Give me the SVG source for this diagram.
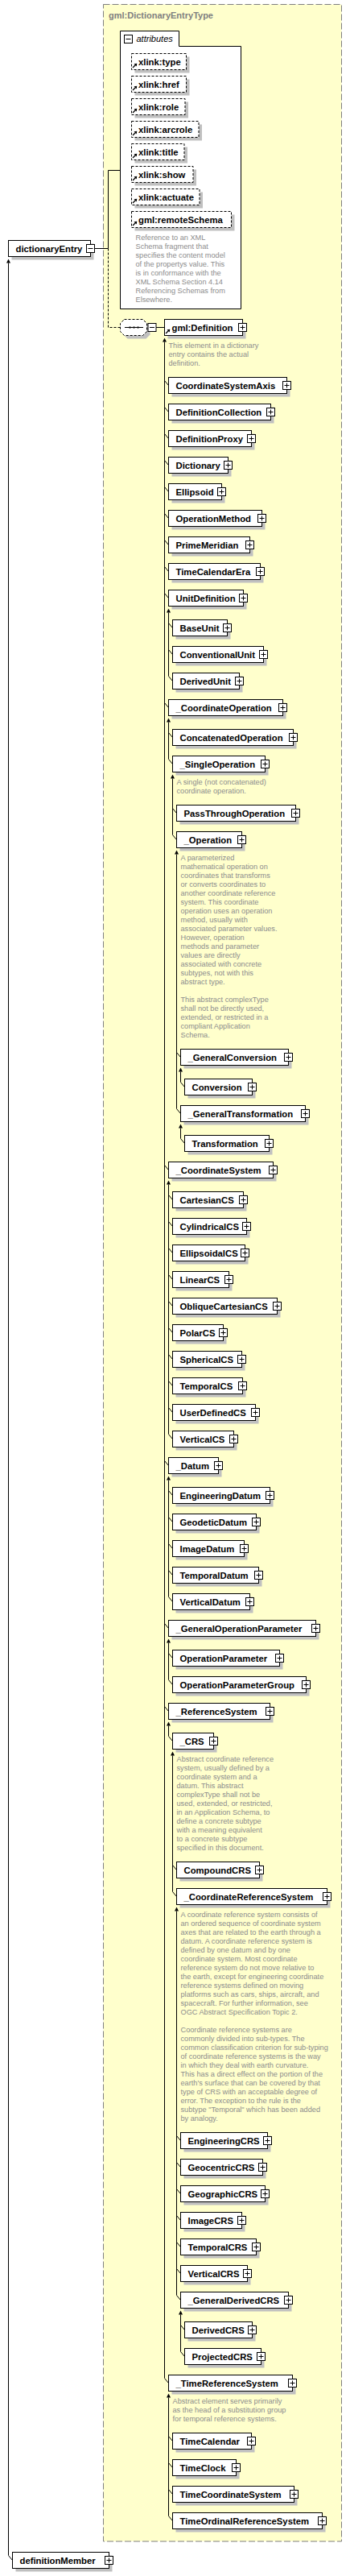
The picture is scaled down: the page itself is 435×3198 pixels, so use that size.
<svg xmlns="http://www.w3.org/2000/svg" xmlns:xlink="http://www.w3.org/1999/xlink" width="435" height="3198" viewBox="0 0 435 3198">
<style>
.bx{fill:#fff;stroke:#000;stroke-width:1}
.sh{fill:#c0c0c0}
.ab{fill:#fff;stroke:#000;stroke-width:1;stroke-dasharray:3,2}
.lb{font-family:"Liberation Sans",Arial,sans-serif;font-size:11.3px;font-weight:bold;fill:#000}
.ds{font-family:"Liberation Sans",Arial,sans-serif;font-size:9.2px;fill:#8c8c8c}
.cn{fill:none;stroke:#000;stroke-width:1}
.dcn{fill:none;stroke:#000;stroke-width:1;stroke-dasharray:3,2}
.ah{fill:#000}
</style>
<defs>
<g id="pb"><rect x="-5" y="-5" width="10" height="10" fill="#fff" stroke="#000"/><path d="M-3 0H3M0 -3V3" stroke="#000"/></g>
<g id="mb"><rect x="-5" y="-5" width="10" height="10" fill="#fff" stroke="#000"/><path d="M-3 0H3" stroke="#000"/></g>
<g id="ri"><path d="M1.5 -2.5L5 -6" stroke="#000" stroke-width="1.3"/><polygon points="6.8,-7.8 3,-7.2 6.2,-4" fill="#000"/></g>
</defs>

<rect x="128.5" y="5.5" width="296" height="3149.5" fill="#ffffcc" stroke="#808080" stroke-dasharray="8,3"/>
<text x="135" y="23" style="font-family:'Liberation Sans',Arial,sans-serif;font-size:11px;font-weight:bold;fill:#808080">gml:DictionaryEntryType</text>

<g id="attributes">
<path d="M149.5 383.5V38.5H222.5V57.5H299.5V383.5Z" class="bx"/>
<use xlink:href="#mb" x="159.5" y="48.5"/>
<text x="169.5" y="52" style="font-family:'Liberation Sans',Arial,sans-serif;font-size:11px;font-style:italic;fill:#000">attributes</text>
</g>
<g id="a-type"><rect class="sh" x="167.5" y="70.5" width="68" height="20"/><rect class="ab" x="163.5" y="66.5" width="68" height="20"/><use xlink:href="#ri" x="163.5" y="86.5"/><text class="lb" x="172" y="80.5">xlink:type</text></g>
<g id="a-href"><rect class="sh" x="167.5" y="98.5" width="68" height="20"/><rect class="ab" x="163.5" y="94.5" width="68" height="20"/><use xlink:href="#ri" x="163.5" y="114.5"/><text class="lb" x="172" y="108.5">xlink:href</text></g>
<g id="a-role"><rect class="sh" x="167.5" y="126.5" width="66.5" height="20"/><rect class="ab" x="163.5" y="122.5" width="66.5" height="20"/><use xlink:href="#ri" x="163.5" y="142.5"/><text class="lb" x="172" y="136.5">xlink:role</text></g>
<g id="a-arcrole"><rect class="sh" x="167.5" y="154.5" width="83.5" height="20"/><rect class="ab" x="163.5" y="150.5" width="83.5" height="20"/><use xlink:href="#ri" x="163.5" y="170.5"/><text class="lb" x="172" y="164.5">xlink:arcrole</text></g>
<g id="a-title"><rect class="sh" x="167.5" y="182.5" width="65.5" height="20"/><rect class="ab" x="163.5" y="178.5" width="65.5" height="20"/><use xlink:href="#ri" x="163.5" y="198.5"/><text class="lb" x="172" y="192.5">xlink:title</text></g>
<g id="a-show"><rect class="sh" x="167.5" y="210.5" width="76.5" height="20"/><rect class="ab" x="163.5" y="206.5" width="76.5" height="20"/><use xlink:href="#ri" x="163.5" y="226.5"/><text class="lb" x="172" y="220.5">xlink:show</text></g>
<g id="a-actuate"><rect class="sh" x="167.5" y="238.5" width="84.5" height="20"/><rect class="ab" x="163.5" y="234.5" width="84.5" height="20"/><use xlink:href="#ri" x="163.5" y="254.5"/><text class="lb" x="172" y="248.5">xlink:actuate</text></g>
<g id="a-remoteSchema"><rect class="sh" x="167.5" y="266.5" width="124" height="20"/><rect class="ab" x="163.5" y="262.5" width="124" height="20"/><use xlink:href="#ri" x="163.5" y="282.5"/><text class="lb" x="172" y="276.5">gml:remoteSchema</text>
<text class="ds" x="168.5" y="298"><tspan x="168.5">Reference to an XML</tspan><tspan x="168.5" dy="11">Schema fragment that</tspan><tspan x="168.5" dy="11">specifies the content model</tspan><tspan x="168.5" dy="11">of the propertys value. This</tspan><tspan x="168.5" dy="11">is in conformance with the</tspan><tspan x="168.5" dy="11">XML Schema Section 4.14</tspan><tspan x="168.5" dy="11">Referencing Schemas from</tspan><tspan x="168.5" dy="11">Elsewhere.</tspan></text></g>

<g id="connectors">
<path class="cn" d="M117.5 308.5H134.5V211.5H149.5"/>
<path class="dcn" d="M134.5 308.5V406.5H149.5"/>
<path class="cn" d="M194 406.5H204.5"/>
<polygon class="ah" points="10.5,321.5 8,326.5 13,326.5"/>
<path class="cn" d="M10.5 326.5V3172.5l5 6"/>
<polygon class="ah" points="204.5,419.5 202,424.5 207,424.5"/>
<path class="cn" d="M204.5 424.5V2952.5"/>
<path class="cn" d="M204.5 472.5l5 6M204.5 505.5l5 6M204.5 538.5l5 6M204.5 571.5l5 6M204.5 604.5l5 6M204.5 637.5l5 6M204.5 670.5l5 6M204.5 703.5l5 6M204.5 736.5l5 6M204.5 872.5l5 6M204.5 1446.5l5 6M204.5 1813.5l5 6M204.5 2015.5l5 6M204.5 2118.5l5 6M204.5 2952.5l5 6"/>
<polygon class="ah" points="209.5,755.5 207,760.5 212,760.5"/>
<path class="cn" d="M209.5 760.5V839.5M209.5 773.5l5 6M209.5 806.5l5 6M209.5 839.5l5 6"/>
<polygon class="ah" points="209.5,891.5 207,896.5 212,896.5"/>
<path class="cn" d="M209.5 896.5V942.5M209.5 909.5l5 6M209.5 942.5l5 6"/>
<polygon class="ah" points="214.5,961.5 212,966.5 217,966.5"/>
<path class="cn" d="M214.5 966.5V1036.5M214.5 1003.5l5 6M214.5 1036.5l5 6"/>
<polygon class="ah" points="219.5,1055.5 217,1060.5 222,1060.5"/>
<path class="cn" d="M219.5 1060.5V1376.5M219.5 1306.5l5 6M219.5 1376.5l5 6"/>
<polygon class="ah" points="224.5,1325.5 222,1330.5 227,1330.5"/>
<path class="cn" d="M224.5 1330.5V1343.5l5 6"/>
<polygon class="ah" points="224.5,1395.5 222,1400.5 227,1400.5"/>
<path class="cn" d="M224.5 1400.5V1413.5l5 6"/>
<polygon class="ah" points="209.5,1465.5 207,1470.5 212,1470.5"/>
<path class="cn" d="M209.5 1470.5V1780.5M209.5 1483.5l5 6M209.5 1516.5l5 6M209.5 1549.5l5 6M209.5 1582.5l5 6M209.5 1615.5l5 6M209.5 1648.5l5 6M209.5 1681.5l5 6M209.5 1714.5l5 6M209.5 1747.5l5 6M209.5 1780.5l5 6"/>
<polygon class="ah" points="209.5,1832.5 207,1837.5 212,1837.5"/>
<path class="cn" d="M209.5 1837.5V1982.5M209.5 1850.5l5 6M209.5 1883.5l5 6M209.5 1916.5l5 6M209.5 1949.5l5 6M209.5 1982.5l5 6"/>
<polygon class="ah" points="209.5,2034.5 207,2039.5 212,2039.5"/>
<path class="cn" d="M209.5 2039.5V2085.5M209.5 2052.5l5 6M209.5 2085.5l5 6"/>
<polygon class="ah" points="209.5,2137.5 207,2142.5 212,2142.5"/>
<path class="cn" d="M209.5 2142.5V2155.5l5 6"/>
<polygon class="ah" points="214.5,2174.5 212,2179.5 217,2179.5"/>
<path class="cn" d="M214.5 2179.5V2348.5M214.5 2315.5l5 6M214.5 2348.5l5 6"/>
<polygon class="ah" points="219.5,2367.5 217,2372.5 222,2372.5"/>
<path class="cn" d="M219.5 2372.5V2849.5M219.5 2651.5l5 6M219.5 2684.5l5 6M219.5 2717.5l5 6M219.5 2750.5l5 6M219.5 2783.5l5 6M219.5 2816.5l5 6M219.5 2849.5l5 6"/>
<polygon class="ah" points="224.5,2868.5 222,2873.5 227,2873.5"/>
<path class="cn" d="M224.5 2873.5V2919.5M224.5 2886.5l5 6M224.5 2919.5l5 6"/>
<polygon class="ah" points="209.5,2971.5 207,2976.5 212,2976.5"/>
<path class="cn" d="M209.5 2976.5V3123.5M209.5 3024.5l5 6M209.5 3057.5l5 6M209.5 3090.5l5 6M209.5 3123.5l5 6"/>
</g>

<g id="dictionaryEntry"><rect class="sh" x="14.5" y="302.5" width="102" height="20"/><rect class="bx" x="10.5" y="298.5" width="102" height="20"/><text class="lb" x="19.5" y="312.5">dictionaryEntry</text><use xlink:href="#mb" x="112.5" y="308.5"/></g>

<g id="sequence"><path class="sh" d="M158.5 400.5H181.5L186.5 405.5V415.5L181.5 420.5H158.5L153.5 415.5V405.5Z"/><path d="M154.5 396.5H177.5L182.5 401.5V411.5L177.5 416.5H154.5L149.5 411.5V401.5Z" fill="#fff" stroke="#000" stroke-dasharray="3,2"/><path d="M155 406.5H178" stroke="#000"/><rect x="160.5" y="405.5" width="2" height="2"/><rect x="165.5" y="405.5" width="2" height="2"/><rect x="170.5" y="405.5" width="2" height="2"/><use xlink:href="#mb" x="189" y="406.5"/></g>

<g id="gml-Definition"><rect class="sh" x="208.5" y="400.5" width="97" height="20"/><rect class="bx" x="204.5" y="396.5" width="97" height="20"/><use xlink:href="#ri" x="204.5" y="416.5"/><text class="lb" x="213.5" y="410.5">gml:Definition</text><use xlink:href="#pb" x="301.5" y="406.5"/>
<text class="ds" x="209.5" y="432"><tspan x="209.5">This element in a dictionary</tspan><tspan x="209.5" dy="11">entry contains the actual</tspan><tspan x="209.5" dy="11">definition.</tspan></text></g>

<g id="CoordinateSystemAxis"><rect class="sh" x="213.5" y="472.5" width="147" height="20"/><rect class="bx" x="209.5" y="468.5" width="147" height="20"/><text class="lb" x="218.5" y="482.5">CoordinateSystemAxis</text><use xlink:href="#pb" x="356.5" y="478.5"/></g>
<g id="DefinitionCollection"><rect class="sh" x="213.5" y="505.5" width="127" height="20"/><rect class="bx" x="209.5" y="501.5" width="127" height="20"/><text class="lb" x="218.5" y="515.5">DefinitionCollection</text><use xlink:href="#pb" x="336.5" y="511.5"/></g>
<g id="DefinitionProxy"><rect class="sh" x="213.5" y="538.5" width="103" height="20"/><rect class="bx" x="209.5" y="534.5" width="103" height="20"/><text class="lb" x="218.5" y="548.5">DefinitionProxy</text><use xlink:href="#pb" x="312.5" y="544.5"/></g>
<g id="Dictionary"><rect class="sh" x="213.5" y="571.5" width="74" height="20"/><rect class="bx" x="209.5" y="567.5" width="74" height="20"/><text class="lb" x="218.5" y="581.5">Dictionary</text><use xlink:href="#pb" x="283.5" y="577.5"/></g>
<g id="Ellipsoid"><rect class="sh" x="213.5" y="604.5" width="66" height="20"/><rect class="bx" x="209.5" y="600.5" width="66" height="20"/><text class="lb" x="218.5" y="614.5">Ellipsoid</text><use xlink:href="#pb" x="275.5" y="610.5"/></g>
<g id="OperationMethod"><rect class="sh" x="213.5" y="637.5" width="116" height="20"/><rect class="bx" x="209.5" y="633.5" width="116" height="20"/><text class="lb" x="218.5" y="647.5">OperationMethod</text><use xlink:href="#pb" x="325.5" y="643.5"/></g>
<g id="PrimeMeridian"><rect class="sh" x="213.5" y="670.5" width="101" height="20"/><rect class="bx" x="209.5" y="666.5" width="101" height="20"/><text class="lb" x="218.5" y="680.5">PrimeMeridian</text><use xlink:href="#pb" x="310.5" y="676.5"/></g>
<g id="TimeCalendarEra"><rect class="sh" x="213.5" y="703.5" width="114" height="20"/><rect class="bx" x="209.5" y="699.5" width="114" height="20"/><text class="lb" x="218.5" y="713.5">TimeCalendarEra</text><use xlink:href="#pb" x="323.5" y="709.5"/></g>
<g id="UnitDefinition"><rect class="sh" x="213.5" y="736.5" width="93" height="20"/><rect class="bx" x="209.5" y="732.5" width="93" height="20"/><text class="lb" x="218.5" y="746.5">UnitDefinition</text><use xlink:href="#pb" x="302.5" y="742.5"/></g>
<g id="BaseUnit"><rect class="sh" x="218.5" y="773.5" width="68" height="20"/><rect class="bx" x="214.5" y="769.5" width="68" height="20"/><text class="lb" x="223.5" y="783.5">BaseUnit</text><use xlink:href="#pb" x="282.5" y="779.5"/></g>
<g id="ConventionalUnit"><rect class="sh" x="218.5" y="806.5" width="113" height="20"/><rect class="bx" x="214.5" y="802.5" width="113" height="20"/><text class="lb" x="223.5" y="816.5">ConventionalUnit</text><use xlink:href="#pb" x="327.5" y="812.5"/></g>
<g id="DerivedUnit"><rect class="sh" x="218.5" y="839.5" width="83" height="20"/><rect class="bx" x="214.5" y="835.5" width="83" height="20"/><text class="lb" x="223.5" y="849.5">DerivedUnit</text><use xlink:href="#pb" x="297.5" y="845.5"/></g>
<g id="_CoordinateOperation"><rect class="sh" x="213.5" y="872.5" width="142" height="20"/><rect class="bx" x="209.5" y="868.5" width="142" height="20"/><text class="lb" x="218.5" y="882.5">_CoordinateOperation</text><use xlink:href="#pb" x="351.5" y="878.5"/></g>
<g id="ConcatenatedOperation"><rect class="sh" x="218.5" y="909.5" width="150" height="20"/><rect class="bx" x="214.5" y="905.5" width="150" height="20"/><text class="lb" x="223.5" y="919.5">ConcatenatedOperation</text><use xlink:href="#pb" x="364.5" y="915.5"/></g>
<g id="_SingleOperation"><rect class="sh" x="218.5" y="942.5" width="115" height="20"/><rect class="bx" x="214.5" y="938.5" width="115" height="20"/><text class="lb" x="223.5" y="952.5">_SingleOperation</text><use xlink:href="#pb" x="329.5" y="948.5"/>
<text class="ds" x="219.5" y="973.5"><tspan x="219.5">A single (not concatenated)</tspan><tspan x="219.5" dy="11">coordinate operation.</tspan></text></g>
<g id="PassThroughOperation"><rect class="sh" x="223.5" y="1003.5" width="148" height="20"/><rect class="bx" x="219.5" y="999.5" width="148" height="20"/><text class="lb" x="228.5" y="1013.5">PassThroughOperation</text><use xlink:href="#pb" x="367.5" y="1009.5"/></g>
<g id="_Operation"><rect class="sh" x="223.5" y="1036.5" width="81" height="20"/><rect class="bx" x="219.5" y="1032.5" width="81" height="20"/><text class="lb" x="228.5" y="1046.5">_Operation</text><use xlink:href="#pb" x="300.5" y="1042.5"/>
<text class="ds" x="224.5" y="1068"><tspan x="224.5">A parameterized</tspan><tspan x="224.5" dy="11">mathematical operation on</tspan><tspan x="224.5" dy="11">coordinates that transforms</tspan><tspan x="224.5" dy="11">or converts coordinates to</tspan><tspan x="224.5" dy="11">another coordinate reference</tspan><tspan x="224.5" dy="11">system. This coordinate</tspan><tspan x="224.5" dy="11">operation uses an operation</tspan><tspan x="224.5" dy="11">method, usually with</tspan><tspan x="224.5" dy="11">associated parameter values.</tspan><tspan x="224.5" dy="11">However, operation</tspan><tspan x="224.5" dy="11">methods and parameter</tspan><tspan x="224.5" dy="11">values are directly</tspan><tspan x="224.5" dy="11">associated with concrete</tspan><tspan x="224.5" dy="11">subtypes, not with this</tspan><tspan x="224.5" dy="11">abstract type.</tspan><tspan x="224.5" dy="22">This abstract complexType</tspan><tspan x="224.5" dy="11">shall not be directly used,</tspan><tspan x="224.5" dy="11">extended, or restricted in a</tspan><tspan x="224.5" dy="11">compliant Application</tspan><tspan x="224.5" dy="11">Schema.</tspan></text></g>
<g id="_GeneralConversion"><rect class="sh" x="228.5" y="1306.5" width="134" height="20"/><rect class="bx" x="224.5" y="1302.5" width="134" height="20"/><text class="lb" x="233.5" y="1316.5">_GeneralConversion</text><use xlink:href="#pb" x="358.5" y="1312.5"/></g>
<g id="Conversion"><rect class="sh" x="233.5" y="1343.5" width="84" height="20"/><rect class="bx" x="229.5" y="1339.5" width="84" height="20"/><text class="lb" x="238.5" y="1353.5">Conversion</text><use xlink:href="#pb" x="313.5" y="1349.5"/></g>
<g id="_GeneralTransformation"><rect class="sh" x="228.5" y="1376.5" width="155" height="20"/><rect class="bx" x="224.5" y="1372.5" width="155" height="20"/><text class="lb" x="233.5" y="1386.5">_GeneralTransformation</text><use xlink:href="#pb" x="379.5" y="1382.5"/></g>
<g id="Transformation"><rect class="sh" x="233.5" y="1413.5" width="105" height="20"/><rect class="bx" x="229.5" y="1409.5" width="105" height="20"/><text class="lb" x="238.5" y="1423.5">Transformation</text><use xlink:href="#pb" x="334.5" y="1419.5"/></g>
<g id="_CoordinateSystem"><rect class="sh" x="213.5" y="1446.5" width="130" height="20"/><rect class="bx" x="209.5" y="1442.5" width="130" height="20"/><text class="lb" x="218.5" y="1456.5">_CoordinateSystem</text><use xlink:href="#pb" x="339.5" y="1452.5"/></g>
<g id="CartesianCS"><rect class="sh" x="218.5" y="1483.5" width="88" height="20"/><rect class="bx" x="214.5" y="1479.5" width="88" height="20"/><text class="lb" x="223.5" y="1493.5">CartesianCS</text><use xlink:href="#pb" x="302.5" y="1489.5"/></g>
<g id="CylindricalCS"><rect class="sh" x="218.5" y="1516.5" width="92" height="20"/><rect class="bx" x="214.5" y="1512.5" width="92" height="20"/><text class="lb" x="223.5" y="1526.5">CylindricalCS</text><use xlink:href="#pb" x="306.5" y="1522.5"/></g>
<g id="EllipsoidalCS"><rect class="sh" x="218.5" y="1549.5" width="90" height="20"/><rect class="bx" x="214.5" y="1545.5" width="90" height="20"/><text class="lb" x="223.5" y="1559.5">EllipsoidalCS</text><use xlink:href="#pb" x="304.5" y="1555.5"/></g>
<g id="LinearCS"><rect class="sh" x="218.5" y="1582.5" width="70" height="20"/><rect class="bx" x="214.5" y="1578.5" width="70" height="20"/><text class="lb" x="223.5" y="1592.5">LinearCS</text><use xlink:href="#pb" x="284.5" y="1588.5"/></g>
<g id="ObliqueCartesianCS"><rect class="sh" x="218.5" y="1615.5" width="130" height="20"/><rect class="bx" x="214.5" y="1611.5" width="130" height="20"/><text class="lb" x="223.5" y="1625.5">ObliqueCartesianCS</text><use xlink:href="#pb" x="344.5" y="1621.5"/></g>
<g id="PolarCS"><rect class="sh" x="218.5" y="1648.5" width="63" height="20"/><rect class="bx" x="214.5" y="1644.5" width="63" height="20"/><text class="lb" x="223.5" y="1658.5">PolarCS</text><use xlink:href="#pb" x="277.5" y="1654.5"/></g>
<g id="SphericalCS"><rect class="sh" x="218.5" y="1681.5" width="86" height="20"/><rect class="bx" x="214.5" y="1677.5" width="86" height="20"/><text class="lb" x="223.5" y="1691.5">SphericalCS</text><use xlink:href="#pb" x="300.5" y="1687.5"/></g>
<g id="TemporalCS"><rect class="sh" x="218.5" y="1714.5" width="87" height="20"/><rect class="bx" x="214.5" y="1710.5" width="87" height="20"/><text class="lb" x="223.5" y="1724.5">TemporalCS</text><use xlink:href="#pb" x="301.5" y="1720.5"/></g>
<g id="UserDefinedCS"><rect class="sh" x="218.5" y="1747.5" width="103" height="20"/><rect class="bx" x="214.5" y="1743.5" width="103" height="20"/><text class="lb" x="223.5" y="1757.5">UserDefinedCS</text><use xlink:href="#pb" x="317.5" y="1753.5"/></g>
<g id="VerticalCS"><rect class="sh" x="218.5" y="1780.5" width="76" height="20"/><rect class="bx" x="214.5" y="1776.5" width="76" height="20"/><text class="lb" x="223.5" y="1790.5">VerticalCS</text><use xlink:href="#pb" x="290.5" y="1786.5"/></g>
<g id="_Datum"><rect class="sh" x="213.5" y="1813.5" width="62" height="20"/><rect class="bx" x="209.5" y="1809.5" width="62" height="20"/><text class="lb" x="218.5" y="1823.5">_Datum</text><use xlink:href="#pb" x="271.5" y="1819.5"/></g>
<g id="EngineeringDatum"><rect class="sh" x="218.5" y="1850.5" width="121" height="20"/><rect class="bx" x="214.5" y="1846.5" width="121" height="20"/><text class="lb" x="223.5" y="1860.5">EngineeringDatum</text><use xlink:href="#pb" x="335.5" y="1856.5"/></g>
<g id="GeodeticDatum"><rect class="sh" x="218.5" y="1883.5" width="104" height="20"/><rect class="bx" x="214.5" y="1879.5" width="104" height="20"/><text class="lb" x="223.5" y="1893.5">GeodeticDatum</text><use xlink:href="#pb" x="318.5" y="1889.5"/></g>
<g id="ImageDatum"><rect class="sh" x="218.5" y="1916.5" width="89" height="20"/><rect class="bx" x="214.5" y="1912.5" width="89" height="20"/><text class="lb" x="223.5" y="1926.5">ImageDatum</text><use xlink:href="#pb" x="303.5" y="1922.5"/></g>
<g id="TemporalDatum"><rect class="sh" x="218.5" y="1949.5" width="107" height="20"/><rect class="bx" x="214.5" y="1945.5" width="107" height="20"/><text class="lb" x="223.5" y="1959.5">TemporalDatum</text><use xlink:href="#pb" x="321.5" y="1955.5"/></g>
<g id="VerticalDatum"><rect class="sh" x="218.5" y="1982.5" width="96" height="20"/><rect class="bx" x="214.5" y="1978.5" width="96" height="20"/><text class="lb" x="223.5" y="1992.5">VerticalDatum</text><use xlink:href="#pb" x="310.5" y="1988.5"/></g>
<g id="_GeneralOperationParameter"><rect class="sh" x="213.5" y="2015.5" width="183" height="20"/><rect class="bx" x="209.5" y="2011.5" width="183" height="20"/><text class="lb" x="218.5" y="2025.5">_GeneralOperationParameter</text><use xlink:href="#pb" x="392.5" y="2021.5"/></g>
<g id="OperationParameter"><rect class="sh" x="218.5" y="2052.5" width="133" height="20"/><rect class="bx" x="214.5" y="2048.5" width="133" height="20"/><text class="lb" x="223.5" y="2062.5">OperationParameter</text><use xlink:href="#pb" x="347.5" y="2058.5"/></g>
<g id="OperationParameterGroup"><rect class="sh" x="218.5" y="2085.5" width="166" height="20"/><rect class="bx" x="214.5" y="2081.5" width="166" height="20"/><text class="lb" x="223.5" y="2095.5">OperationParameterGroup</text><use xlink:href="#pb" x="380.5" y="2091.5"/></g>
<g id="_ReferenceSystem"><rect class="sh" x="213.5" y="2118.5" width="126" height="20"/><rect class="bx" x="209.5" y="2114.5" width="126" height="20"/><text class="lb" x="218.5" y="2128.5">_ReferenceSystem</text><use xlink:href="#pb" x="335.5" y="2124.5"/></g>
<g id="_CRS"><rect class="sh" x="218.5" y="2155.5" width="51" height="20"/><rect class="bx" x="214.5" y="2151.5" width="51" height="20"/><text class="lb" x="223.5" y="2165.5">_CRS</text><use xlink:href="#pb" x="265.5" y="2161.5"/>
<text class="ds" x="219.5" y="2186.5"><tspan x="219.5">Abstract coordinate reference</tspan><tspan x="219.5" dy="11">system, usually defined by a</tspan><tspan x="219.5" dy="11">coordinate system and a</tspan><tspan x="219.5" dy="11">datum. This abstract</tspan><tspan x="219.5" dy="11">complexType shall not be</tspan><tspan x="219.5" dy="11">used, extended, or restricted,</tspan><tspan x="219.5" dy="11">in an Application Schema, to</tspan><tspan x="219.5" dy="11">define a concrete subtype</tspan><tspan x="219.5" dy="11">with a meaning equivalent</tspan><tspan x="219.5" dy="11">to a concrete subtype</tspan><tspan x="219.5" dy="11">specified in this document.</tspan></text></g>
<g id="CompoundCRS"><rect class="sh" x="223.5" y="2315.5" width="103" height="20"/><rect class="bx" x="219.5" y="2311.5" width="103" height="20"/><text class="lb" x="228.5" y="2325.5">CompoundCRS</text><use xlink:href="#pb" x="322.5" y="2321.5"/></g>
<g id="_CoordinateReferenceSystem"><rect class="sh" x="223.5" y="2348.5" width="187" height="20"/><rect class="bx" x="219.5" y="2344.5" width="187" height="20"/><text class="lb" x="228.5" y="2358.5">_CoordinateReferenceSystem</text><use xlink:href="#pb" x="406.5" y="2354.5"/>
<text class="ds" x="224.5" y="2380"><tspan x="224.5">A coordinate reference system consists of</tspan><tspan x="224.5" dy="11">an ordered sequence of coordinate system</tspan><tspan x="224.5" dy="11">axes that are related to the earth through a</tspan><tspan x="224.5" dy="11">datum. A coordinate reference system is</tspan><tspan x="224.5" dy="11">defined by one datum and by one</tspan><tspan x="224.5" dy="11">coordinate system. Most coordinate</tspan><tspan x="224.5" dy="11">reference system do not move relative to</tspan><tspan x="224.5" dy="11">the earth, except for engineering coordinate</tspan><tspan x="224.5" dy="11">reference systems defined on moving</tspan><tspan x="224.5" dy="11">platforms such as cars, ships, aircraft, and</tspan><tspan x="224.5" dy="11">spacecraft. For further information, see</tspan><tspan x="224.5" dy="11">OGC Abstract Specification Topic 2.</tspan><tspan x="224.5" dy="22">Coordinate reference systems are</tspan><tspan x="224.5" dy="11">commonly divided into sub-types. The</tspan><tspan x="224.5" dy="11">common classification criterion for sub-typing</tspan><tspan x="224.5" dy="11">of coordinate reference systems is the way</tspan><tspan x="224.5" dy="11">in which they deal with earth curvature.</tspan><tspan x="224.5" dy="11">This has a direct effect on the portion of the</tspan><tspan x="224.5" dy="11">earth's surface that can be covered by that</tspan><tspan x="224.5" dy="11">type of CRS with an acceptable degree of</tspan><tspan x="224.5" dy="11">error. The exception to the rule is the</tspan><tspan x="224.5" dy="11">subtype "Temporal" which has been added</tspan><tspan x="224.5" dy="11">by analogy.</tspan></text></g>
<g id="EngineeringCRS"><rect class="sh" x="228.5" y="2651.5" width="108" height="20"/><rect class="bx" x="224.5" y="2647.5" width="108" height="20"/><text class="lb" x="233.5" y="2661.5">EngineeringCRS</text><use xlink:href="#pb" x="332.5" y="2657.5"/></g>
<g id="GeocentricCRS"><rect class="sh" x="228.5" y="2684.5" width="102" height="20"/><rect class="bx" x="224.5" y="2680.5" width="102" height="20"/><text class="lb" x="233.5" y="2694.5">GeocentricCRS</text><use xlink:href="#pb" x="326.5" y="2690.5"/></g>
<g id="GeographicCRS"><rect class="sh" x="228.5" y="2717.5" width="105" height="20"/><rect class="bx" x="224.5" y="2713.5" width="105" height="20"/><text class="lb" x="233.5" y="2727.5">GeographicCRS</text><use xlink:href="#pb" x="329.5" y="2723.5"/></g>
<g id="ImageCRS"><rect class="sh" x="228.5" y="2750.5" width="76" height="20"/><rect class="bx" x="224.5" y="2746.5" width="76" height="20"/><text class="lb" x="233.5" y="2760.5">ImageCRS</text><use xlink:href="#pb" x="300.5" y="2756.5"/></g>
<g id="TemporalCRS"><rect class="sh" x="228.5" y="2783.5" width="94" height="20"/><rect class="bx" x="224.5" y="2779.5" width="94" height="20"/><text class="lb" x="233.5" y="2793.5">TemporalCRS</text><use xlink:href="#pb" x="318.5" y="2789.5"/></g>
<g id="VerticalCRS"><rect class="sh" x="228.5" y="2816.5" width="83" height="20"/><rect class="bx" x="224.5" y="2812.5" width="83" height="20"/><text class="lb" x="233.5" y="2826.5">VerticalCRS</text><use xlink:href="#pb" x="307.5" y="2822.5"/></g>
<g id="_GeneralDerivedCRS"><rect class="sh" x="228.5" y="2849.5" width="134" height="20"/><rect class="bx" x="224.5" y="2845.5" width="134" height="20"/><text class="lb" x="233.5" y="2859.5">_GeneralDerivedCRS</text><use xlink:href="#pb" x="358.5" y="2855.5"/></g>
<g id="DerivedCRS"><rect class="sh" x="233.5" y="2886.5" width="84" height="20"/><rect class="bx" x="229.5" y="2882.5" width="84" height="20"/><text class="lb" x="238.5" y="2896.5">DerivedCRS</text><use xlink:href="#pb" x="313.5" y="2892.5"/></g>
<g id="ProjectedCRS"><rect class="sh" x="233.5" y="2919.5" width="95" height="20"/><rect class="bx" x="229.5" y="2915.5" width="95" height="20"/><text class="lb" x="238.5" y="2929.5">ProjectedCRS</text><use xlink:href="#pb" x="324.5" y="2925.5"/></g>
<g id="_TimeReferenceSystem"><rect class="sh" x="213.5" y="2952.5" width="154" height="20"/><rect class="bx" x="209.5" y="2948.5" width="154" height="20"/><text class="lb" x="218.5" y="2962.5">_TimeReferenceSystem</text><use xlink:href="#pb" x="363.5" y="2958.5"/>
<text class="ds" x="214.5" y="2983.5"><tspan x="214.5">Abstract element serves primarily</tspan><tspan x="214.5" dy="11">as the head of a substitution group</tspan><tspan x="214.5" dy="11">for temporal reference systems.</tspan></text></g>
<g id="TimeCalendar"><rect class="sh" x="218.5" y="3024.5" width="98" height="20"/><rect class="bx" x="214.5" y="3020.5" width="98" height="20"/><text class="lb" x="223.5" y="3034.5">TimeCalendar</text><use xlink:href="#pb" x="312.5" y="3030.5"/></g>
<g id="TimeClock"><rect class="sh" x="218.5" y="3057.5" width="79" height="20"/><rect class="bx" x="214.5" y="3053.5" width="79" height="20"/><text class="lb" x="223.5" y="3067.5">TimeClock</text><use xlink:href="#pb" x="293.5" y="3063.5"/></g>
<g id="TimeCoordinateSystem"><rect class="sh" x="218.5" y="3090.5" width="151" height="20"/><rect class="bx" x="214.5" y="3086.5" width="151" height="20"/><text class="lb" x="223.5" y="3100.5">TimeCoordinateSystem</text><use xlink:href="#pb" x="365.5" y="3096.5"/></g>
<g id="TimeOrdinalReferenceSystem"><rect class="sh" x="218.5" y="3123.5" width="186" height="20"/><rect class="bx" x="214.5" y="3119.5" width="186" height="20"/><text class="lb" x="223.5" y="3133.5">TimeOrdinalReferenceSystem</text><use xlink:href="#pb" x="400.5" y="3129.5"/></g>

<g id="definitionMember"><rect class="sh" x="19.5" y="3172.5" width="120" height="20"/><rect class="bx" x="15.5" y="3168.5" width="120" height="20"/><text class="lb" x="24.5" y="3182.5">definitionMember</text><use xlink:href="#pb" x="135.5" y="3178.5"/></g>
</svg>
